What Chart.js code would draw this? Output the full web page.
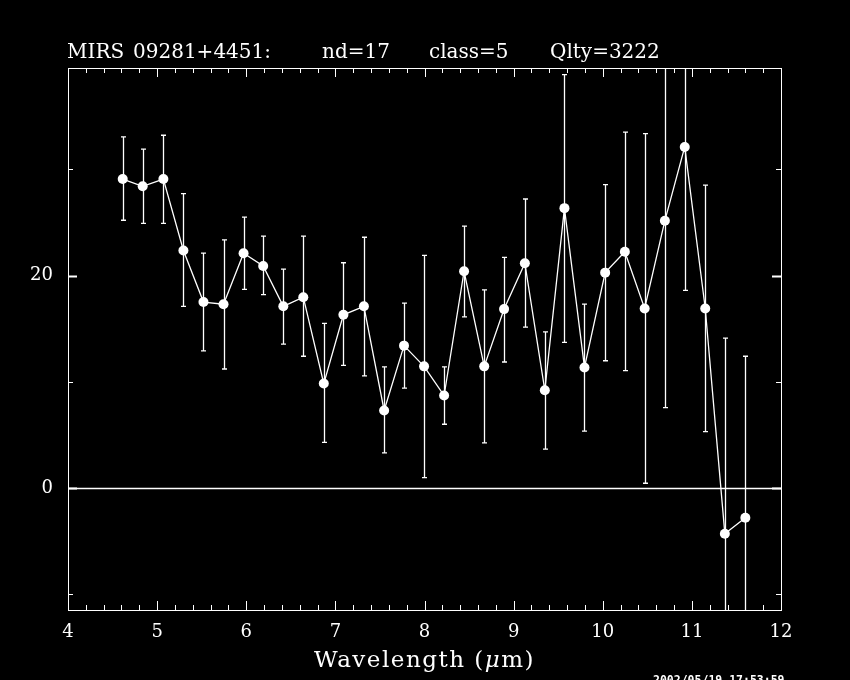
<!DOCTYPE html>
<html><head><meta charset="utf-8">
<script src="https://cdn.jsdelivr.net/npm/chart.js@4.4.0/dist/chart.umd.min.js"></script>
<style>html,body{margin:0;padding:0;background:#000;}canvas{display:block;background:#000;}</style>
</head><body>
<canvas id="c" width="850" height="680"></canvas>
<script>
// ---- data ----
const wavelengths = [4.614, 4.838, 5.070, 5.295, 5.520, 5.745, 5.970, 6.190, 6.416, 6.640, 6.870, 7.090, 7.320, 7.547, 7.770, 7.995,
                     8.220, 8.444, 8.670, 8.893, 9.126, 9.350, 9.570, 9.795, 10.027, 10.248, 10.470, 10.697, 10.920, 11.150, 11.370, 11.600];
const fluxValues  = [29.08, 28.4, 29.08, 22.35, 17.5, 17.3, 22.1, 20.9, 17.1, 17.96, 9.83, 16.3, 17.1, 7.3, 13.4, 11.45,
                     8.7, 20.4, 11.45, 16.84, 21.16, 9.2, 26.34, 11.35, 20.27, 22.24, 16.9, 25.16, 32.1, 16.9, -4.3, -2.8];
const errUpper    = [33.05, 31.9, 33.2, 27.7, 22.1, 23.35, 25.5, 23.7, 20.6, 23.7, 15.5, 21.2, 23.6, 11.4, 17.4, 21.9,
                     11.4, 24.65, 18.65, 21.7, 27.2, 14.7, 38.9, 17.3, 28.55, 33.5, 33.35, 45.0, 46.0, 28.5, 14.1, 12.4];
const errLower    = [25.2, 24.9, 24.9, 17.1, 12.9, 11.2, 18.7, 18.2, 13.55, 12.4, 4.3, 11.55, 10.55, 3.3, 9.4, 0.97,
                     6.0, 16.1, 4.25, 11.86, 15.15, 3.66, 13.7, 5.35, 11.98, 11.04, 0.45, 7.56, 18.6, 5.3, -25.0, -20.0];
const xTickLabels = [4, 5, 6, 7, 8, 9, 10, 11, 12];
const yTickLabels = [0, 20];
const titleParts  = ["MIRS", "09281+4451:", "nd=17", "class=5", "Qlty=3222"];
const xAxisTitle  = ["Wavelength (", "\u03BC", "m)"];
const timestamp   = "2002/05/19 17:53:59";

// ---- layout / style ----
const titleX = [67, 133, 322, 429, 550];
const WHITE = '#ffffff';

const errorBars = {
  id: 'errorBars',
  beforeDatasetsDraw(chart) {
    const {ctx, chartArea: a, scales: {x, y}} = chart;
    ctx.save();
    ctx.beginPath(); ctx.rect(a.left, a.top, a.right - a.left, a.bottom - a.top); ctx.clip();
    ctx.strokeStyle = WHITE; ctx.lineWidth = 1.3;
    wavelengths.forEach((w, i) => {
      const px = Math.round(x.getPixelForValue(w)) + 0.5;
      const hi = y.getPixelForValue(errUpper[i]);
      const lo = y.getPixelForValue(errLower[i]);
      ctx.beginPath();
      ctx.moveTo(px, hi); ctx.lineTo(px, lo);
      ctx.moveTo(px - 2.5, hi); ctx.lineTo(px + 2.5, hi);
      ctx.moveTo(px - 2.5, lo); ctx.lineTo(px + 2.5, lo);
      ctx.stroke();
    });
    ctx.restore();
  }
};

const frame = {
  id: 'frame',
  beforeDatasetsDraw(chart) {
    const {ctx, chartArea: a, scales: {x, y}} = chart;
    ctx.save();
    ctx.strokeStyle = WHITE;
    ctx.lineWidth = 1;
    ctx.strokeRect(a.left + 0.5, a.top + 0.5, a.right - a.left, a.bottom - a.top);
    // x ticks (inward, bottom and top)
    for (let k = 1; k < 40; k++) {
      const v = 4 + k * 0.2;
      const px = Math.round(x.getPixelForValue(v)) + 0.5;
      const len = (k % 5 === 0) ? 9 : 5;
      ctx.beginPath();
      ctx.moveTo(px, a.bottom); ctx.lineTo(px, a.bottom - len);
      ctx.moveTo(px, a.top); ctx.lineTo(px, a.top + len);
      ctx.stroke();
    }
    // y ticks (inward, left and right)
    for (let v = -10; v <= 30; v += 10) {
      const py = Math.round(y.getPixelForValue(v)) + 0.5;
      const major = (v % 20 === 0);
      const len = major ? 9 : 5;
      ctx.lineWidth = major ? 2 : 1;
      ctx.beginPath();
      ctx.moveTo(a.left, py); ctx.lineTo(a.left + len, py);
      ctx.moveTo(a.right, py); ctx.lineTo(a.right - len, py);
      ctx.stroke();
    }
    // zero line
    const z = Math.round(y.getPixelForValue(0)) + 0.5;
    ctx.lineWidth = 1.5;
    ctx.beginPath(); ctx.moveTo(a.left, z); ctx.lineTo(a.right, z); ctx.stroke();
    ctx.restore();
  },
  afterDraw(chart) {
    const {ctx, chartArea: a} = chart;
    ctx.save();
    ctx.fillStyle = WHITE;
    ctx.textBaseline = 'alphabetic';
    ctx.font = '20px "DejaVu Serif"';
    titleParts.forEach((t, i) => ctx.fillText(t, titleX[i], 57.5));
    // axis title
    ctx.letterSpacing = '1.5px';
    const fN = '23px "DejaVu Serif"', fI = 'italic 23px "DejaVu Serif"';
    const fonts = [fN, fI, fN];
    let total = 0;
    const widths = xAxisTitle.map((t, i) => { ctx.font = fonts[i]; const w = ctx.measureText(t).width; total += w; return w; });
    let cx = (a.left + a.right) / 2 - total / 2;
    xAxisTitle.forEach((t, i) => { ctx.font = fonts[i]; ctx.fillText(t, cx, 667); cx += widths[i]; });
    ctx.letterSpacing = '0px';
    ctx.font = 'bold 11.5px "DejaVu Sans Mono"';
    ctx.textBaseline = 'top';
    ctx.fillText(timestamp, 653, 675);
    ctx.restore();
  }
};

const ctx = document.getElementById('c').getContext('2d');
new Chart(ctx, {
  type: 'scatter',
  data: {
    datasets: [{
      data: wavelengths.map((w, i) => ({x: w, y: fluxValues[i]})),
      showLine: true,
      borderColor: WHITE,
      borderWidth: 1.3,
      pointRadius: 5,
      pointHoverRadius: 5,
      pointBackgroundColor: WHITE,
      pointBorderColor: WHITE,
      pointBorderWidth: 0,
      tension: 0,
      clip: {left: 0, top: 0, right: 0, bottom: 0}
    }]
  },
  options: {
    responsive: false,
    animation: false,
    devicePixelRatio: 1,
    events: [],
    layout: {padding: {top: 68, right: 69, bottom: 0, left: 0}},
    plugins: {legend: {display: false}, tooltip: {enabled: false}, title: {display: false}},
    scales: {
      x: {
        type: 'linear', min: 4, max: 12,
        grid: {display: false, drawTicks: false},
        border: {display: false},
        afterBuildTicks: s => { s.ticks = xTickLabels.map(v => ({value: v})); },
        ticks: {color: WHITE, font: {family: 'DejaVu Serif', size: 18}, padding: 12, maxRotation: 0, autoSkip: false},
        afterFit: s => { s.height = 70; }
      },
      y: {
        type: 'linear', min: -11.48, max: 39.53,
        grid: {display: false, drawTicks: false},
        border: {display: false},
        afterBuildTicks: s => { s.ticks = yTickLabels.map(v => ({value: v})); },
        ticks: {color: WHITE, font: {family: 'DejaVu Serif', size: 18}, padding: 15},
        afterFit: s => { s.width = 68; }
      }
    }
  },
  plugins: [errorBars, frame]
});
</script>
</body></html>
